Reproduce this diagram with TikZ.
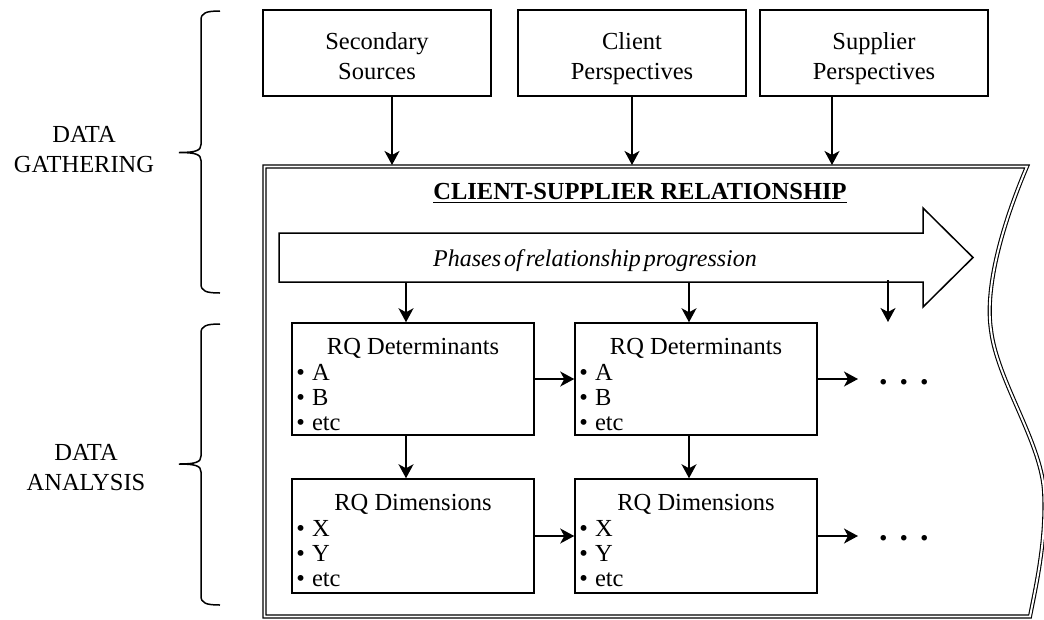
\documentclass[tikz,border=0pt]{standalone}
\usepackage{fontspec}
\setmainfont{Liberation Serif}
\usetikzlibrary{arrows.meta}

% curly brace opening to the right: top y, tip y, bottom y
\newcommand{\sidebrace}[3]{%
  \draw[bracestyle] (220,#1) .. controls (206,#1) and (201,#1+2) .. (201,#1+9)
    -- (201,#2-8) .. controls (201,#2-2) and (196,#2) .. (179,#2)
    .. controls (196,#2) and (201,#2+2) .. (201,#2+8)
    -- (201,#3-9) .. controls (201,#3-2) and (206,#3) .. (220,#3);}

% heading and bullet lines inside a box
\newcommand{\boxtext}[4]{%
  \node[anchor=base] (#1-t) at ([yshift=-32pt]#1.north) {#2};
  \node[anchor=base west] (#1-a) at ([xshift=5pt,yshift=-58pt]#1.north west) {•\hspace{7pt}#3};
  \node[anchor=base west] (#1-b) at ([xshift=5pt,yshift=-83pt]#1.north west) {•\hspace{7pt}#4};
  \node[anchor=base west] (#1-c) at ([xshift=5pt,yshift=-108pt]#1.north west) {•\hspace{7pt}etc};}

\begin{document}
\begin{tikzpicture}[x=1pt,y=-1pt,
  every node/.style={inner sep=0pt, font=\fontsize{24.5}{30}\selectfont},
  box/.style={draw, line width=1.5pt, rectangle, fill=white},
  arr/.style={line width=1.5pt, -{Stealth[length=14pt,width=15pt,inset=4pt]}},
  framestyle/.style={line width=1.1pt, double, double distance=1.9pt},
  bracestyle/.style={line width=1.5pt},
  boldtext/.style={font=\bfseries\fontsize{24.5}{30}\selectfont},
  dotstyle/.style={font=\bfseries\fontsize{34}{30}\selectfont}
]
\useasboundingbox (0,0) rectangle (1044,619);

% outer frame with wavy right edge
\draw[framestyle] (1027,166.5) -- (264.5,166.5) -- (264.5,616.5) -- (1030,616.5)
  .. controls (1035,590) and (1047,540) .. (1044,490)
  .. controls (1040,440) and (997,380) .. (991,330)
  .. controls (985,290) and (1000,230) .. cycle;
\coordinate (ftop) at (0,165);

% sources
\node[box, minimum width=228pt, minimum height=86pt] (sec) at (377,53) {};
\node[box, minimum width=228pt, minimum height=86pt] (cli) at (632,53) {};
\node[box, minimum width=228pt, minimum height=86pt] (sup) at (874,53) {};
\node[align=center] (sec-t) at ([yshift=-5pt]sec.center) {\strut Secondary\\\strut Sources};
\node[align=center] (cli-t) at ([yshift=-5pt]cli.center) {\strut Client\\\strut Perspectives};
\node[align=center] (sup-t) at ([yshift=-5pt]sup.center) {\strut Supplier\\\strut Perspectives};

\draw[arr] ([xshift=15pt]sec.south) -- ([xshift=15pt]sec.south |- ftop);
\draw[arr] (cli.south) -- (cli.south |- ftop);
\draw[arr] ([xshift=-42pt]sup.south) -- ([xshift=-42pt]sup.south |- ftop);

% title
\node[boldtext, anchor=base] (title) at (640,199.5) {CLIENT-SUPPLIER RELATIONSHIP};
\draw[line width=1.4pt] ([yshift=-3pt]title.base west) -- ([yshift=-3pt]title.base east);

% progression arrow
\draw[line width=1.5pt, fill=white] (279,233) -- (923,233) -- (923,208) -- (973,257.5)
  -- (923,307) -- (923,282) -- (279,282) -- cycle;
\coordinate (pbot) at (0,282);
\node[font=\itshape\fontsize{24}{30}\selectfont, anchor=base] (phases) at (595,266)
  {Phases\hspace{3pt}of\hspace{3pt}relationship\hspace{3pt}progression};

% determinant and dimension boxes
\node[box, minimum width=242pt, minimum height=112pt] (det1) at (413,379) {};
\node[box, minimum width=242pt, minimum height=112pt] (det2) at (696,379) {};
\node[box, minimum width=242pt, minimum height=114pt] (dim1) at (413,536) {};
\node[box, minimum width=242pt, minimum height=114pt] (dim2) at (696,536) {};
\boxtext{det1}{RQ Determinants}{A}{B}
\boxtext{det2}{RQ Determinants}{A}{B}
\boxtext{dim1}{RQ Dimensions}{X}{Y}
\boxtext{dim2}{RQ Dimensions}{X}{Y}

\node[dotstyle, anchor=west, inner xsep=21pt] (dots1) at (858,382) {.\hspace{12pt}.\hspace{12pt}.};
\node[dotstyle, anchor=west, inner xsep=21pt] (dots2) at (858,538) {.\hspace{12pt}.\hspace{12pt}.};

% connectors
\draw[arr] ([xshift=-7pt]det1.north |- pbot) -- ([xshift=-7pt]det1.north);
\draw[arr] ([xshift=-7pt]det2.north |- pbot) -- ([xshift=-7pt]det2.north);
\coordinate (nextdrop) at (888,280);
\coordinate (nextend) at (888,322);
\draw[arr] (nextdrop) -- (nextend);
\draw[arr] ([xshift=-7pt]det1.south) -- ([xshift=-7pt]dim1.north);
\draw[arr] ([xshift=-7pt]det2.south) -- ([xshift=-7pt]dim2.north);
\draw[arr] (det1.east) -- (det2.west);
\draw[arr] (dim1.east) -- (dim2.west);
\draw[arr] (det2.east) -- (det2.east -| dots1.west);
\draw[arr] (dim2.east) -- (dim2.east -| dots2.west);

% phase labels with braces
\node[align=center] (gather) at (84,150) {DATA\\GATHERING};
\node[align=center] (analyse) at (86,468) {DATA\\ANALYSIS};
\sidebrace{11}{152.5}{293}
\sidebrace{324}{464}{605}
\end{tikzpicture}
\end{document}
